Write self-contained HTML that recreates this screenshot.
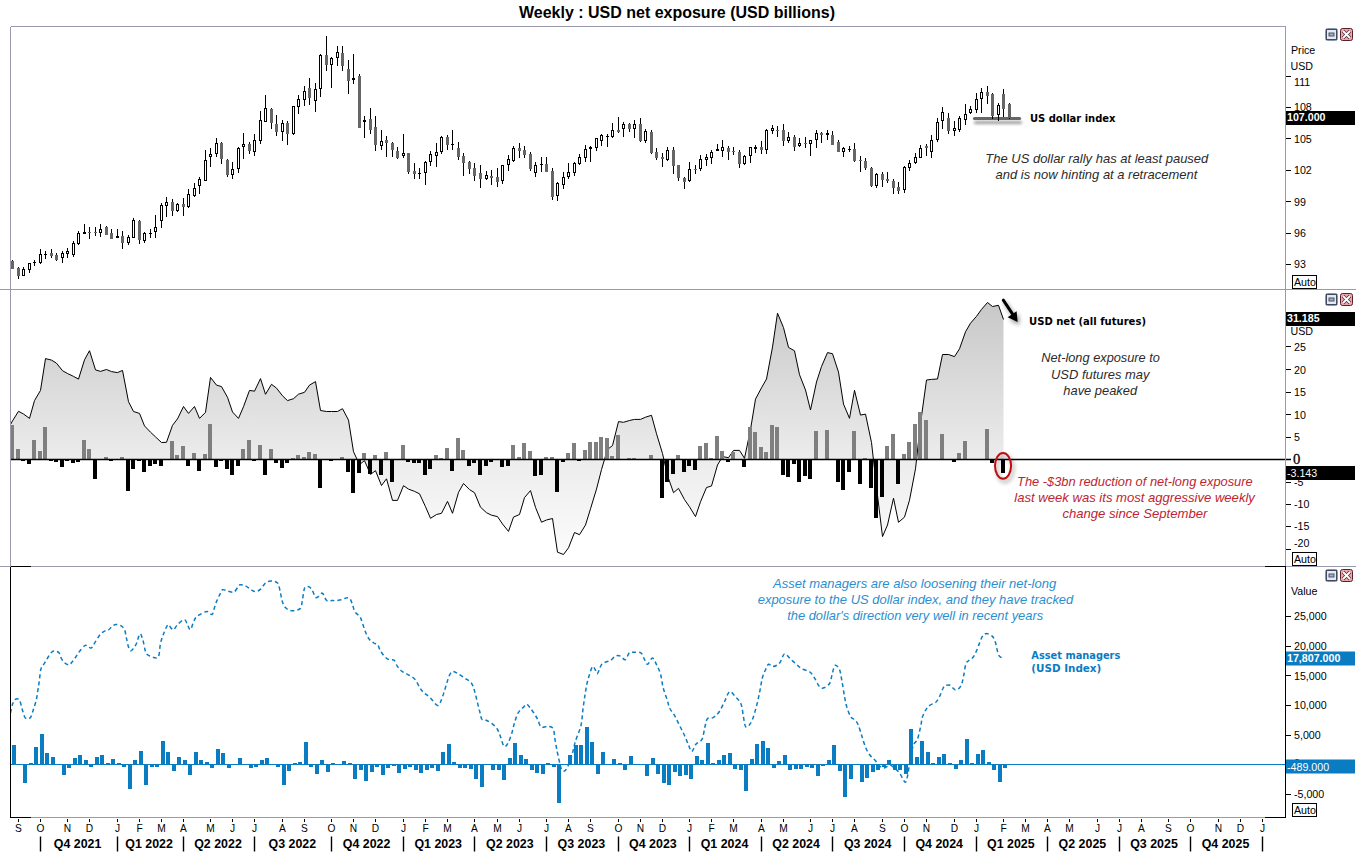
<!DOCTYPE html>
<html><head><meta charset="utf-8"><title>Weekly : USD net exposure (USD billions)</title>
<style>html,body{margin:0;padding:0;background:#fff}svg{display:block}</style></head>
<body>
<svg width="1356" height="853" viewBox="0 0 1356 853" font-family="'Liberation Sans', Arial, sans-serif">
<defs>
<linearGradient id="ga" gradientUnits="userSpaceOnUse" x1="0" y1="290" x2="0" y2="566"><stop offset="0" stop-color="#c5c5c5"/><stop offset="0.612" stop-color="#ececec"/><stop offset="1" stop-color="#fefefe"/></linearGradient>
<filter id="sh" filterUnits="userSpaceOnUse" x="960" y="280" width="80" height="220"><feGaussianBlur in="SourceAlpha" stdDeviation="2"/><feOffset dx="1.5" dy="3"/><feComponentTransfer><feFuncA type="linear" slope="0.4"/></feComponentTransfer><feMerge><feMergeNode/><feMergeNode in="SourceGraphic"/></feMerge></filter>
<filter id="sh2" filterUnits="userSpaceOnUse" x="960" y="100" width="80" height="40"><feGaussianBlur in="SourceAlpha" stdDeviation="1.6"/><feOffset dx="1" dy="3.5"/><feComponentTransfer><feFuncA type="linear" slope="0.4"/></feComponentTransfer><feMerge><feMergeNode/><feMergeNode in="SourceGraphic"/></feMerge></filter>
<clipPath id="cm"><rect x="11" y="290" width="1274.5" height="276"/></clipPath>
<clipPath id="cb"><rect x="11" y="567" width="1274.5" height="250"/></clipPath>
</defs>
<rect width="1356" height="853" fill="#fff"/>
<g clip-path="url(#cm)"><path d="M10.5 459.5 L10.5 424.5 L12.5 420.9 L18.5 411.3 L23.5 414.0 L29.5 418.4 L34.5 400.6 L40.5 390.4 L45.5 358.6 L51.5 360.1 L56.5 363.2 L62.5 370.7 L67.5 373.5 L73.5 376.4 L78.5 379.1 L84.5 359.8 L89.5 350.7 L95.5 369.9 L100.5 371.4 L106.5 369.5 L111.5 371.6 L117.5 372.6 L122.5 370.4 L128.5 401.7 L133.5 411.5 L139.5 413.4 L144.5 425.9 L150.5 432.2 L155.5 436.9 L161.5 442.5 L166.5 442.3 L172.5 425.3 L177.5 418.9 L183.5 406.5 L188.5 413.4 L194.5 406.5 L199.5 418.4 L205.5 412.4 L210.5 377.4 L216.5 385.1 L221.5 386.6 L227.5 397.3 L232.5 412.0 L238.5 418.4 L243.5 406.7 L249.5 390.4 L254.5 391.2 L260.5 378.6 L265.5 394.3 L271.5 384.3 L276.5 388.1 L282.5 395.8 L287.5 400.6 L293.5 398.7 L298.5 394.2 L304.5 392.3 L309.5 385.1 L315.5 381.6 L320.5 410.5 L326.5 411.5 L331.5 411.5 L337.5 411.5 L342.5 408.7 L348.5 420.1 L353.5 451.7 L359.5 464.6 L364.5 460.6 L370.5 474.4 L375.5 470.7 L381.5 485.5 L386.5 478.8 L392.5 500.4 L397.5 500.4 L403.5 485.7 L408.5 489.1 L414.5 491.4 L419.5 493.8 L425.5 506.7 L430.5 518.3 L436.5 514.5 L441.5 513.3 L447.5 501.4 L452.5 513.3 L458.5 492.4 L463.5 483.5 L469.5 489.6 L474.5 492.7 L480.5 507.2 L486.5 512.7 L491.5 515.2 L497.5 516.6 L502.5 524.0 L508.5 531.4 L513.5 517.1 L519.5 514.5 L524.5 497.6 L530.5 490.6 L535.5 507.4 L541.5 522.2 L546.5 520.0 L552.5 518.5 L557.5 552.2 L563.5 554.5 L568.5 547.8 L574.5 532.5 L579.5 534.7 L585.5 525.0 L590.5 508.8 L596.5 489.1 L601.5 469.6 L607.5 449.4 L612.5 445.6 L618.5 421.6 L623.5 422.3 L629.5 420.5 L634.5 419.4 L640.5 419.4 L645.5 417.2 L651.5 415.3 L656.5 433.7 L662.5 453.5 L667.5 475.5 L673.5 492.7 L678.5 488.4 L684.5 499.6 L689.5 506.8 L695.5 516.6 L700.5 501.8 L706.5 487.5 L711.5 486.0 L717.5 465.0 L722.5 456.6 L728.5 457.7 L733.5 450.4 L739.5 450.4 L744.5 458.3 L750.5 429.5 L755.5 399.1 L761.5 387.8 L766.5 379.0 L772.5 347.1 L777.5 313.2 L783.5 327.6 L788.5 347.4 L794.5 350.8 L799.5 374.7 L805.5 390.0 L810.5 410.0 L816.5 382.0 L821.5 366.5 L827.5 352.6 L832.5 353.7 L838.5 372.1 L843.5 404.1 L849.5 418.3 L854.5 390.3 L860.5 415.1 L865.5 414.1 L871.5 442.5 L876.5 487.0 L882.5 536.6 L887.5 525.0 L893.5 498.2 L898.5 522.3 L904.5 517.1 L909.5 500.2 L915.5 468.8 L920.5 423.5 L926.5 380.0 L931.5 379.4 L937.5 379.0 L942.5 354.5 L948.5 354.5 L954.5 356.6 L959.5 348.8 L965.5 331.8 L970.5 323.2 L976.5 316.3 L981.5 309.4 L987.5 302.5 L992.5 306.5 L998.5 305.3 L1003.5 319.5 L1003.5 459.5 Z" fill="url(#ga)"/>
<path d="M10.5 424.5 L12.5 420.9 L18.5 411.3 L23.5 414.0 L29.5 418.4 L34.5 400.6 L40.5 390.4 L45.5 358.6 L51.5 360.1 L56.5 363.2 L62.5 370.7 L67.5 373.5 L73.5 376.4 L78.5 379.1 L84.5 359.8 L89.5 350.7 L95.5 369.9 L100.5 371.4 L106.5 369.5 L111.5 371.6 L117.5 372.6 L122.5 370.4 L128.5 401.7 L133.5 411.5 L139.5 413.4 L144.5 425.9 L150.5 432.2 L155.5 436.9 L161.5 442.5 L166.5 442.3 L172.5 425.3 L177.5 418.9 L183.5 406.5 L188.5 413.4 L194.5 406.5 L199.5 418.4 L205.5 412.4 L210.5 377.4 L216.5 385.1 L221.5 386.6 L227.5 397.3 L232.5 412.0 L238.5 418.4 L243.5 406.7 L249.5 390.4 L254.5 391.2 L260.5 378.6 L265.5 394.3 L271.5 384.3 L276.5 388.1 L282.5 395.8 L287.5 400.6 L293.5 398.7 L298.5 394.2 L304.5 392.3 L309.5 385.1 L315.5 381.6 L320.5 410.5 L326.5 411.5 L331.5 411.5 L337.5 411.5 L342.5 408.7 L348.5 420.1 L353.5 451.7 L359.5 464.6 L364.5 460.6 L370.5 474.4 L375.5 470.7 L381.5 485.5 L386.5 478.8 L392.5 500.4 L397.5 500.4 L403.5 485.7 L408.5 489.1 L414.5 491.4 L419.5 493.8 L425.5 506.7 L430.5 518.3 L436.5 514.5 L441.5 513.3 L447.5 501.4 L452.5 513.3 L458.5 492.4 L463.5 483.5 L469.5 489.6 L474.5 492.7 L480.5 507.2 L486.5 512.7 L491.5 515.2 L497.5 516.6 L502.5 524.0 L508.5 531.4 L513.5 517.1 L519.5 514.5 L524.5 497.6 L530.5 490.6 L535.5 507.4 L541.5 522.2 L546.5 520.0 L552.5 518.5 L557.5 552.2 L563.5 554.5 L568.5 547.8 L574.5 532.5 L579.5 534.7 L585.5 525.0 L590.5 508.8 L596.5 489.1 L601.5 469.6 L607.5 449.4 L612.5 445.6 L618.5 421.6 L623.5 422.3 L629.5 420.5 L634.5 419.4 L640.5 419.4 L645.5 417.2 L651.5 415.3 L656.5 433.7 L662.5 453.5 L667.5 475.5 L673.5 492.7 L678.5 488.4 L684.5 499.6 L689.5 506.8 L695.5 516.6 L700.5 501.8 L706.5 487.5 L711.5 486.0 L717.5 465.0 L722.5 456.6 L728.5 457.7 L733.5 450.4 L739.5 450.4 L744.5 458.3 L750.5 429.5 L755.5 399.1 L761.5 387.8 L766.5 379.0 L772.5 347.1 L777.5 313.2 L783.5 327.6 L788.5 347.4 L794.5 350.8 L799.5 374.7 L805.5 390.0 L810.5 410.0 L816.5 382.0 L821.5 366.5 L827.5 352.6 L832.5 353.7 L838.5 372.1 L843.5 404.1 L849.5 418.3 L854.5 390.3 L860.5 415.1 L865.5 414.1 L871.5 442.5 L876.5 487.0 L882.5 536.6 L887.5 525.0 L893.5 498.2 L898.5 522.3 L904.5 517.1 L909.5 500.2 L915.5 468.8 L920.5 423.5 L926.5 380.0 L931.5 379.4 L937.5 379.0 L942.5 354.5 L948.5 354.5 L954.5 356.6 L959.5 348.8 L965.5 331.8 L970.5 323.2 L976.5 316.3 L981.5 309.4 L987.5 302.5 L992.5 306.5 L998.5 305.3 L1003.5 319.5" fill="none" stroke="#000" stroke-width="1" stroke-linejoin="round"/>
<path d="M10 459h4v-34h-4zM16 459h4v-10h-4zM32 459h4v-19h-4zM38 459h4v-8h-4zM43 459h4v-32h-4zM82 459h4v-19h-4zM87 459h4v-10h-4zM104 459h4v-2h-4zM120 459h4v-2h-4zM170 459h4v-18h-4zM175 459h4v-4h-4zM181 459h4v-13h-4zM192 459h4v-6h-4zM203 459h4v-5h-4zM208 459h4v-35h-4zM241 459h4v-10h-4zM247 459h4v-19h-4zM258 459h4v-14h-4zM269 459h4v-10h-4zM291 459h4v-1h-4zM296 459h4v-4h-4zM302 459h4v-2h-4zM307 459h4v-7h-4zM313 459h4v-5h-4zM340 459h4v-2h-4zM362 459h4v-6h-4zM373 459h4v-4h-4zM384 459h4v-7h-4zM401 459h4v-14h-4zM434 459h4v-4h-4zM439 459h4v-1h-4zM445 459h4v-11h-4zM456 459h4v-21h-4zM461 459h4v-9h-4zM511 459h4v-14h-4zM517 459h4v-2h-4zM522 459h4v-16h-4zM528 459h4v-8h-4zM544 459h4v-2h-4zM550 459h4v-2h-4zM566 459h4v-6h-4zM572 459h4v-16h-4zM583 459h4v-9h-4zM588 459h4v-17h-4zM594 459h4v-17h-4zM599 459h4v-22h-4zM605 459h4v-21h-4zM610 459h4v-3h-4zM616 459h4v-24h-4zM627 459h4v-1h-4zM632 459h4v-1h-4zM649 459h4v-4h-4zM676 459h4v-4h-4zM698 459h4v-13h-4zM704 459h4v-16h-4zM709 459h4v-1h-4zM715 459h4v-23h-4zM720 459h4v-8h-4zM731 459h4v-7h-4zM748 459h4v-32h-4zM753 459h4v-27h-4zM759 459h4v-12h-4zM764 459h4v-7h-4zM770 459h4v-34h-4zM775 459h4v-32h-4zM814 459h4v-28h-4zM825 459h4v-29h-4zM852 459h4v-28h-4zM863 459h4v-1h-4zM885 459h4v-13h-4zM891 459h4v-25h-4zM902 459h4v-5h-4zM907 459h4v-17h-4zM913 459h4v-35h-4zM918 459h4v-47h-4zM924 459h4v-39h-4zM940 459h4v-25h-4zM957 459h4v-6h-4zM963 459h4v-18h-4zM985 459h4v-30h-4z" fill="#7f7f7f" shape-rendering="crispEdges"/><path d="M21 460h4v1h-4zM27 460h4v4h-4zM49 460h4v1h-4zM54 460h4v2h-4zM60 460h4v7h-4zM65 460h4v1h-4zM71 460h4v3h-4zM76 460h4v2h-4zM93 460h4v19h-4zM109 460h4v1h-4zM126 460h4v31h-4zM131 460h4v9h-4zM137 460h4v1h-4zM142 460h4v12h-4zM148 460h4v6h-4zM153 460h4v4h-4zM159 460h4v6h-4zM186 460h4v6h-4zM197 460h4v11h-4zM214 460h4v7h-4zM219 460h4v1h-4zM225 460h4v9h-4zM230 460h4v15h-4zM236 460h4v6h-4zM252 460h4v1h-4zM263 460h4v15h-4zM274 460h4v3h-4zM280 460h4v8h-4zM285 460h4v3h-4zM318 460h4v28h-4zM329 460h4v1h-4zM346 460h4v12h-4zM351 460h4v33h-4zM357 460h4v13h-4zM368 460h4v14h-4zM379 460h4v15h-4zM390 460h4v22h-4zM406 460h4v2h-4zM412 460h4v3h-4zM417 460h4v3h-4zM423 460h4v15h-4zM428 460h4v9h-4zM450 460h4v11h-4zM467 460h4v6h-4zM472 460h4v3h-4zM478 460h4v15h-4zM484 460h4v6h-4zM489 460h4v2h-4zM500 460h4v7h-4zM506 460h4v6h-4zM533 460h4v16h-4zM539 460h4v15h-4zM555 460h4v32h-4zM561 460h4v2h-4zM577 460h4v1h-4zM660 460h4v38h-4zM665 460h4v22h-4zM671 460h4v14h-4zM682 460h4v12h-4zM687 460h4v6h-4zM693 460h4v10h-4zM726 460h4v2h-4zM742 460h4v7h-4zM781 460h4v15h-4zM786 460h4v17h-4zM792 460h4v4h-4zM797 460h4v22h-4zM803 460h4v16h-4zM808 460h4v19h-4zM836 460h4v22h-4zM841 460h4v30h-4zM847 460h4v12h-4zM858 460h4v24h-4zM869 460h4v28h-4zM874 460h4v58h-4zM880 460h4v37h-4zM896 460h4v24h-4zM952 460h4v2h-4zM990 460h4v3h-4zM1001 460h4v13h-4z" fill="#000" shape-rendering="crispEdges"/></g>
<path d="M11 459.5H1291" stroke="#000" stroke-width="1.4"/>
<path d="M12 764h4v-19h-4zM23 765h4v18h-4zM29 764h4v-1h-4zM34 764h4v-17h-4zM40 764h4v-30h-4zM45 764h4v-11h-4zM51 764h4v-7h-4zM62 765h4v10h-4zM67 765h4v3h-4zM73 764h4v-6h-4zM78 764h4v-9h-4zM84 764h4v-4h-4zM89 765h4v2h-4zM95 764h4v-7h-4zM100 764h4v-9h-4zM106 764h4v-1h-4zM111 764h4v-5h-4zM117 764h4v-1h-4zM122 765h4v2h-4zM128 765h4v24h-4zM133 764h4v-4h-4zM139 764h4v-13h-4zM144 765h4v20h-4zM150 765h4v2h-4zM155 765h4v2h-4zM161 764h4v-23h-4zM166 764h4v-12h-4zM172 765h4v6h-4zM177 764h4v-7h-4zM183 764h4v-4h-4zM188 765h4v10h-4zM194 764h4v-12h-4zM199 764h4v-4h-4zM205 764h4v-2h-4zM210 765h4v3h-4zM216 764h4v-15h-4zM221 764h4v-11h-4zM227 765h4v3h-4zM238 764h4v-6h-4zM249 765h4v3h-4zM254 765h4v2h-4zM260 764h4v-4h-4zM265 764h4v-6h-4zM276 765h4v2h-4zM282 765h4v20h-4zM287 765h4v6h-4zM293 764h4v-1h-4zM298 764h4v-2h-4zM304 764h4v-22h-4zM309 765h4v2h-4zM315 765h4v9h-4zM320 764h4v-4h-4zM326 765h4v7h-4zM331 764h4v-1h-4zM342 764h4v-3h-4zM348 764h4v-1h-4zM353 765h4v14h-4zM359 765h4v5h-4zM364 765h4v16h-4zM370 765h4v7h-4zM375 765h4v2h-4zM381 765h4v10h-4zM386 765h4v3h-4zM392 765h4v1h-4zM397 765h4v8h-4zM403 765h4v4h-4zM408 765h4v2h-4zM414 765h4v5h-4zM419 765h4v8h-4zM425 765h4v5h-4zM430 765h4v3h-4zM436 765h4v6h-4zM441 764h4v-12h-4zM447 764h4v-20h-4zM452 764h4v-2h-4zM458 765h4v3h-4zM463 765h4v3h-4zM469 765h4v4h-4zM474 765h4v14h-4zM480 765h4v22h-4zM491 765h4v5h-4zM497 765h4v5h-4zM502 765h4v15h-4zM508 764h4v-6h-4zM513 764h4v-21h-4zM519 764h4v-9h-4zM524 764h4v-5h-4zM530 765h4v5h-4zM535 765h4v8h-4zM541 765h4v9h-4zM546 764h4v-1h-4zM552 765h4v2h-4zM557 765h4v38h-4zM568 764h4v-9h-4zM574 764h4v-19h-4zM579 764h4v-19h-4zM585 764h4v-37h-4zM590 764h4v-22h-4zM596 765h4v9h-4zM601 764h4v-12h-4zM612 764h4v-5h-4zM618 764h4v-1h-4zM623 765h4v5h-4zM629 764h4v-8h-4zM645 765h4v11h-4zM651 764h4v-6h-4zM656 765h4v9h-4zM662 765h4v18h-4zM667 765h4v20h-4zM673 765h4v7h-4zM678 765h4v11h-4zM684 765h4v10h-4zM689 765h4v14h-4zM695 764h4v-8h-4zM700 764h4v-4h-4zM706 764h4v-21h-4zM711 764h4v-1h-4zM717 764h4v-4h-4zM722 764h4v-9h-4zM728 764h4v-11h-4zM733 765h4v4h-4zM739 765h4v5h-4zM744 765h4v26h-4zM750 764h4v-5h-4zM755 764h4v-20h-4zM761 764h4v-23h-4zM766 764h4v-16h-4zM772 765h4v3h-4zM777 764h4v-3h-4zM783 764h4v-9h-4zM788 765h4v5h-4zM794 765h4v4h-4zM799 765h4v4h-4zM805 765h4v2h-4zM810 765h4v3h-4zM816 765h4v11h-4zM821 765h4v1h-4zM827 764h4v-4h-4zM832 764h4v-19h-4zM838 765h4v6h-4zM843 765h4v32h-4zM849 765h4v14h-4zM860 765h4v17h-4zM865 765h4v13h-4zM871 765h4v7h-4zM876 765h4v5h-4zM882 765h4v2h-4zM887 764h4v-4h-4zM893 765h4v5h-4zM898 765h4v5h-4zM904 765h4v9h-4zM909 764h4v-35h-4zM915 764h4v-7h-4zM920 764h4v-23h-4zM926 764h4v-12h-4zM931 764h4v-1h-4zM937 764h4v-7h-4zM942 764h4v-10h-4zM948 764h4v-1h-4zM954 765h4v4h-4zM959 764h4v-4h-4zM965 764h4v-25h-4zM970 764h4v-1h-4zM976 764h4v-10h-4zM981 764h4v-14h-4zM987 764h4v-2h-4zM992 765h4v5h-4zM998 765h4v17h-4zM1003 765h4v3h-4z" fill="#0a7cc2" shape-rendering="crispEdges"/>
<path d="M11 764.5H1286" stroke="#0a7cc2" stroke-width="1"/>
<path d="M10.5 712.9 C10.8 711.4 11.8 706.5 12.5 704.3 C13.2 702.1 13.8 700.5 14.9 699.7 C16.0 698.9 18.1 698.3 19.3 699.7 C20.4 701.1 20.9 704.9 21.8 707.8 C22.7 710.8 23.9 715.5 24.9 717.3 C26.0 719.0 27.1 718.5 28.1 718.5 C29.0 718.5 29.7 718.6 30.6 717.3 C31.4 715.9 32.2 713.2 33.1 710.4 C34.0 707.5 35.4 703.7 36.2 700.3 C37.0 697.0 37.3 693.6 37.9 690.3 C38.4 686.9 38.9 683.8 39.4 680.2 C39.9 676.7 40.0 671.8 40.9 669.0 C41.7 666.1 43.2 665.3 44.4 663.3 C45.6 661.3 46.9 658.9 48.2 657.0 C49.4 655.2 50.8 653.0 51.9 652.0 C53.1 651.0 53.9 651.0 55.1 651.1 C56.2 651.2 57.8 651.4 58.8 652.6 C59.9 653.8 60.4 656.6 61.3 658.3 C62.3 660.0 63.2 661.6 64.5 662.7 C65.7 663.8 67.6 665.0 68.9 664.9 C70.1 664.8 70.8 663.4 72.0 662.1 C73.1 660.7 74.5 658.8 75.8 657.0 C77.0 655.3 77.9 653.3 79.5 651.4 C81.1 649.4 83.7 646.1 85.2 645.4 C86.6 644.6 87.3 646.6 88.3 647.0 C89.3 647.4 90.4 648.5 91.4 647.9 C92.5 647.2 93.1 645.5 94.6 643.2 C96.0 641.0 98.5 636.5 100.2 634.4 C101.9 632.4 103.3 631.8 104.6 631.1 C106.0 630.3 107.1 630.9 108.4 630.1 C109.6 629.3 110.9 627.2 112.1 626.3 C113.4 625.4 114.4 624.6 115.9 624.5 C117.4 624.4 119.5 624.7 120.9 625.7 C122.4 626.6 123.7 627.9 124.7 630.1 C125.6 632.3 125.9 636.0 126.6 638.8 C127.2 641.7 127.8 645.0 128.5 647.0 C129.1 649.0 129.9 650.5 130.7 650.8 C131.5 651.0 132.5 649.5 133.5 648.2 C134.5 647.0 135.5 645.6 136.6 643.2 C137.7 640.8 138.9 634.3 140.0 633.8 C141.0 633.3 142.0 637.2 142.9 640.1 C143.8 643.0 144.7 649.0 145.4 651.4 C146.1 653.8 146.1 653.6 147.3 654.5 C148.4 655.5 150.7 656.5 152.3 657.0 C153.9 657.6 155.6 658.2 156.7 657.9 C157.8 657.6 158.3 657.5 158.9 655.2 C159.6 652.8 159.7 647.4 160.4 643.9 C161.2 640.3 162.3 637.0 163.6 633.8 C164.8 630.6 166.7 625.7 168.0 624.8 C169.2 623.8 170.1 627.4 171.1 628.2 C172.1 629.0 172.7 630.2 173.8 629.6 C174.8 629.0 175.8 626.3 177.5 624.6 C179.3 622.9 182.8 619.5 184.4 619.6 C186.1 619.7 186.6 623.5 187.6 625.2 C188.6 626.9 189.5 630.0 190.5 629.6 C191.4 629.2 192.3 624.7 193.2 622.7 C194.1 620.7 194.6 619.0 195.7 617.7 C196.9 616.3 198.2 615.6 200.1 614.5 C202.0 613.5 205.0 611.4 207.0 611.4 C209.0 611.4 210.8 615.2 212.0 614.5 C213.3 613.9 213.7 610.0 214.5 607.6 C215.4 605.2 216.1 602.4 217.1 600.1 C218.0 597.8 219.2 595.6 220.2 593.8 C221.1 592.1 221.4 590.2 222.7 589.7 C224.0 589.2 225.8 590.7 227.7 591.1 C229.6 591.5 232.2 592.8 234.0 592.0 C235.8 591.2 237.3 587.5 238.4 586.3 C239.4 585.1 239.1 584.9 240.3 584.8 C241.4 584.7 243.4 584.8 245.3 585.7 C247.2 586.6 249.9 589.1 251.6 590.1 C253.2 591.1 253.9 591.7 255.3 591.6 C256.8 591.5 258.7 590.8 260.3 589.4 C262.0 588.0 263.7 584.6 265.4 583.2 C267.0 581.8 268.8 581.3 270.4 581.0 C271.9 580.8 273.5 581.1 274.8 581.5 C276.1 582.0 277.2 582.0 278.2 583.8 C279.1 585.6 279.7 589.7 280.4 592.6 C281.1 595.5 281.5 598.9 282.3 601.4 C283.1 603.9 284.1 606.1 285.4 607.6 C286.8 609.2 288.8 610.1 290.5 610.5 C292.1 611.0 293.8 610.8 295.5 610.4 C297.1 610.0 299.3 610.0 300.5 608.3 C301.6 606.6 301.8 603.1 302.4 600.1 C303.0 597.1 303.5 592.3 304.0 590.1 C304.5 587.9 304.6 587.5 305.5 586.9 C306.4 586.4 308.1 586.3 309.3 586.9 C310.4 587.6 311.4 589.0 312.4 590.7 C313.5 592.4 314.5 596.4 315.5 597.4 C316.6 598.3 317.5 597.0 318.7 596.3 C319.8 595.7 321.2 592.6 322.4 593.2 C323.7 593.8 325.1 598.9 326.2 600.1 C327.4 601.4 328.2 600.7 329.3 600.7 C330.5 600.8 332.2 600.5 333.1 600.5 C334.1 600.5 333.7 600.8 335.0 600.7 C336.4 600.6 339.4 600.3 341.3 599.8 C343.2 599.4 344.8 598.1 346.3 597.9 C347.8 597.8 349.0 597.6 350.1 598.8 C351.1 600.0 351.7 602.9 352.6 605.1 C353.4 607.3 353.8 610.0 355.1 612.0 C356.3 614.0 358.8 614.9 360.1 617.0 C361.4 619.1 361.9 621.9 362.9 624.5 C363.8 627.2 364.7 630.2 365.8 632.7 C366.9 635.2 368.2 637.9 369.5 639.6 C370.9 641.3 372.6 642.3 373.9 643.1 C375.3 643.9 376.6 643.4 377.7 644.6 C378.7 645.8 379.1 648.4 380.2 650.3 C381.2 652.1 382.5 654.3 384.0 655.9 C385.4 657.5 387.3 659.0 389.0 659.7 C390.6 660.4 392.6 659.0 394.0 660.1 C395.3 661.1 395.9 664.1 397.1 665.9 C398.4 667.8 399.8 669.6 401.5 671.0 C403.3 672.4 405.3 673.0 407.5 674.4 C409.8 675.8 413.0 677.1 415.1 679.4 C417.1 681.7 418.6 686.0 420.1 688.2 C421.5 690.4 422.2 691.1 423.8 692.6 C425.5 694.2 427.9 695.5 430.1 697.6 C432.3 699.7 435.3 704.3 437.0 705.2 C438.7 706.0 439.0 704.8 440.2 702.7 C441.3 700.6 442.8 696.1 443.9 692.6 C445.1 689.2 446.0 685.1 447.1 682.0 C448.1 678.8 449.1 675.5 450.2 673.8 C451.2 672.1 451.9 671.4 453.3 671.5 C454.8 671.6 456.9 673.2 459.0 674.4 C461.1 675.6 463.8 677.4 465.9 678.8 C468.0 680.3 470.1 681.1 471.5 683.2 C473.0 685.3 473.7 688.3 474.7 691.4 C475.6 694.4 476.3 698.1 477.2 701.4 C478.0 704.8 478.9 708.5 479.7 711.4 C480.4 714.4 480.9 717.8 481.8 719.2 C482.7 720.6 483.7 719.3 485.3 720.0 C487.0 720.7 489.6 721.9 491.6 723.4 C493.6 724.9 495.8 726.8 497.2 729.0 C498.7 731.2 499.4 734.0 500.4 736.5 C501.3 739.0 502.1 742.4 502.9 744.1 C503.7 745.7 504.2 746.9 505.1 746.6 C506.1 746.3 507.3 744.7 508.5 742.2 C509.7 739.7 511.3 735.0 512.3 731.5 C513.3 728.1 513.8 724.7 514.8 721.5 C515.9 718.2 517.1 714.5 518.6 712.1 C520.0 709.7 522.2 708.4 523.6 707.1 C524.9 705.7 525.6 704.0 526.7 704.2 C527.9 704.4 529.1 706.6 530.5 708.3 C531.8 710.0 533.6 712.6 534.9 714.6 C536.1 716.6 537.0 718.1 538.0 720.2 C539.1 722.3 539.6 726.1 541.2 727.1 C542.7 728.2 545.4 726.2 547.4 726.5 C549.4 726.7 551.8 726.3 553.1 728.6 C554.4 730.9 554.4 736.3 555.1 740.1 C555.8 743.9 556.5 747.8 557.2 751.6 C558.0 755.4 559.0 760.2 559.7 763.1 C560.4 765.9 560.6 767.4 561.3 768.8 C562.0 770.2 562.8 771.4 563.8 771.3 C564.8 771.1 565.7 770.7 567.1 768.0 C568.4 765.3 570.6 759.2 572.0 754.9 C573.4 750.5 573.8 746.7 575.3 741.7 C576.8 736.8 579.7 730.8 581.0 725.3 C582.3 719.9 582.3 714.1 583.0 708.9 C583.7 703.7 584.4 698.8 585.1 694.2 C585.9 689.5 586.4 685.5 587.6 681.0 C588.8 676.5 591.0 669.0 592.2 667.1 C593.4 665.1 594.1 668.1 595.0 669.2 C595.8 670.3 596.3 674.4 597.4 673.6 C598.5 672.9 600.0 666.6 601.5 664.6 C603.0 662.6 605.0 662.5 606.5 661.8 C608.0 661.1 609.1 661.5 610.6 660.5 C612.1 659.6 613.8 656.8 615.5 656.1 C617.1 655.3 618.8 655.5 620.4 656.1 C622.0 656.7 623.8 660.2 625.3 659.7 C626.8 659.1 627.9 654.0 629.4 652.8 C630.9 651.6 632.4 652.3 634.4 652.3 C636.3 652.3 639.3 651.7 640.9 652.8 C642.6 653.9 643.1 657.0 644.2 658.9 C645.3 660.8 646.1 664.4 647.5 664.3 C648.9 664.1 650.9 658.0 652.4 658.1 C653.9 658.1 655.1 661.9 656.5 664.6 C657.9 667.3 659.5 670.6 660.6 674.5 C661.7 678.3 662.0 683.3 663.1 687.6 C664.2 691.8 666.1 696.5 667.2 699.9 C668.3 703.3 668.4 705.5 669.6 708.1 C670.9 710.7 672.9 712.6 674.6 715.5 C676.2 718.4 677.8 722.0 679.5 725.3 C681.1 728.6 682.9 731.9 684.4 735.2 C685.9 738.5 687.3 742.3 688.5 745.0 C689.7 747.8 690.6 751.7 691.8 751.6 C693.0 751.4 694.2 746.3 695.9 744.2 C697.6 742.1 700.5 742.1 702.0 739.3 C703.5 736.4 704.0 730.4 704.9 727.0 C705.8 723.6 706.0 720.3 707.4 718.8 C708.8 717.2 711.2 718.7 713.1 717.6 C715.0 716.5 717.0 714.9 718.9 712.2 C720.8 709.5 722.8 705.0 724.6 701.5 C726.4 698.1 727.8 692.5 729.5 691.7 C731.3 690.9 733.4 694.6 735.3 696.6 C737.2 698.7 739.7 700.6 741.0 704.0 C742.4 707.4 742.7 713.3 743.5 717.1 C744.3 721.0 744.6 726.3 745.9 727.0 C747.3 727.7 749.9 724.8 751.7 721.2 C753.5 717.7 755.2 710.7 756.6 705.6 C758.0 700.6 758.9 695.5 759.9 690.9 C760.9 686.2 761.4 681.3 762.4 677.7 C763.3 674.2 764.6 671.8 765.6 669.5 C766.7 667.3 767.4 664.8 768.6 664.3 C769.8 663.8 771.2 666.8 773.0 666.6 C774.9 666.4 777.7 665.1 779.6 663.0 C781.5 660.9 782.7 654.6 784.5 653.9 C786.3 653.3 788.2 657.1 790.3 658.9 C792.3 660.6 794.9 663.0 796.8 664.6 C798.7 666.3 799.6 667.5 801.7 668.7 C803.9 669.9 807.8 670.4 809.9 672.0 C812.1 673.6 813.4 676.2 814.9 678.6 C816.4 680.9 817.6 684.4 819.0 685.9 C820.3 687.5 821.3 688.5 823.1 688.1 C824.8 687.7 828.1 685.8 829.6 683.5 C831.1 681.2 831.2 677.5 832.1 674.5 C833.0 671.5 833.7 666.3 834.9 665.4 C836.1 664.6 838.3 666.9 839.5 669.5 C840.7 672.1 841.1 676.6 841.9 681.0 C842.8 685.4 843.6 691.4 844.4 695.8 C845.2 700.2 845.8 703.7 846.9 707.3 C848.0 710.8 849.6 715.0 851.0 717.1 C852.3 719.2 853.8 718.5 855.1 719.9 C856.3 721.3 857.3 722.8 858.4 725.3 C859.4 727.9 860.8 732.7 861.6 735.2 C862.4 737.7 862.4 737.9 863.1 740.2 C863.9 742.5 865.1 746.5 866.3 749.0 C867.4 751.5 868.6 753.4 870.0 755.2 C871.5 757.1 873.6 758.6 875.1 760.3 C876.5 761.9 877.5 764.0 878.8 765.3 C880.2 766.6 881.9 767.8 883.2 768.0 C884.6 768.3 885.8 767.1 887.0 766.5 C888.1 766.0 889.0 764.4 890.1 764.7 C891.3 764.9 892.4 766.5 893.9 767.8 C895.3 769.0 897.4 770.4 898.9 772.2 C900.4 774.0 901.6 776.8 902.7 778.5 C903.7 780.1 904.6 782.5 905.4 782.2 C906.2 781.9 906.8 779.0 907.4 776.6 C908.0 774.2 908.3 771.8 908.9 767.8 C909.6 763.8 910.6 756.7 911.4 752.7 C912.3 748.8 913.0 746.0 914.0 744.0 C914.9 741.9 916.3 741.9 917.1 740.2 C917.9 738.5 918.3 736.4 919.0 733.9 C919.6 731.4 920.3 728.0 920.9 725.1 C921.5 722.2 921.7 719.3 922.6 716.6 C923.5 713.9 925.1 711.0 926.3 709.1 C927.6 707.2 928.5 706.2 930.1 705.1 C931.7 703.9 934.2 703.6 935.8 702.2 C937.3 700.8 938.4 698.7 939.5 696.5 C940.7 694.3 941.7 690.8 942.7 689.0 C943.6 687.2 943.9 686.2 945.2 685.6 C946.4 685.0 948.8 684.8 950.2 685.2 C951.5 685.7 952.4 687.6 953.3 688.4 C954.3 689.2 954.8 690.1 955.8 690.0 C956.9 689.9 958.6 689.0 959.6 687.8 C960.6 686.5 961.4 685.0 962.1 682.7 C962.8 680.4 963.4 677.1 964.0 674.0 C964.6 670.8 965.1 666.1 965.9 663.9 C966.6 661.7 967.2 661.8 968.4 660.8 C969.5 659.7 971.4 659.3 972.8 657.6 C974.1 656.0 975.4 653.2 976.5 650.7 C977.7 648.2 978.6 645.1 979.7 642.6 C980.7 640.1 981.7 637.2 982.8 635.7 C984.0 634.2 985.1 633.6 986.6 633.6 C988.0 633.6 990.2 634.6 991.6 635.7 C993.0 636.8 993.9 638.1 994.7 640.1 C995.6 642.1 996.0 645.2 996.6 647.6 C997.2 650.0 997.9 652.9 998.5 654.5 C999.1 656.1 999.6 656.4 1000.4 657.0 C1001.1 657.6 1002.5 657.9 1002.9 658.0" fill="none" stroke="#0a7cc2" stroke-width="1.5" stroke-dasharray="4 3" clip-path="url(#cb)"/>
<path d="M974.5 118.5H1019.5" stroke="#666" stroke-width="3.2" stroke-linecap="round" filter="url(#sh2)"/>
<path d="M12 260h1v9h-1zM18 267h1v12h-1zM23 267h1v9h-1zM29 263h1v10h-1zM34 260h1v6h-1zM40 249h1v15h-1zM45 251h1v8h-1zM51 249h1v9h-1zM56 253h1v8h-1zM62 251h1v12h-1zM67 248h1v10h-1zM73 241h1v16h-1zM78 231h1v14h-1zM84 224h1v10h-1zM89 227h1v12h-1zM95 227h1v9h-1zM100 224h1v13h-1zM106 226h1v9h-1zM111 229h1v10h-1zM117 229h1v9h-1zM122 231h1v18h-1zM128 235h1v10h-1zM133 218h1v20h-1zM139 220h1v24h-1zM144 232h1v11h-1zM150 229h1v9h-1zM155 215h1v23h-1zM161 203h1v25h-1zM166 197h1v20h-1zM172 199h1v17h-1zM177 203h1v9h-1zM183 198h1v18h-1zM188 189h1v19h-1zM194 183h1v14h-1zM199 177h1v17h-1zM205 150h1v31h-1zM210 148h1v19h-1zM216 138h1v19h-1zM221 142h1v22h-1zM227 159h1v18h-1zM232 162h1v17h-1zM238 147h1v26h-1zM243 133h1v26h-1zM249 142h1v12h-1zM254 134h1v22h-1zM260 111h1v33h-1zM265 95h1v27h-1zM271 108h1v21h-1zM276 115h1v21h-1zM282 120h1v21h-1zM287 121h1v24h-1zM293 106h1v29h-1zM298 95h1v19h-1zM304 86h1v20h-1zM309 78h1v27h-1zM315 83h1v29h-1zM320 54h1v43h-1zM326 36h1v35h-1zM331 57h1v31h-1zM337 46h1v20h-1zM342 46h1v25h-1zM348 60h1v34h-1zM353 54h1v30h-1zM359 74h1v54h-1zM364 116h1v22h-1zM370 108h1v26h-1zM375 116h1v35h-1zM381 130h1v20h-1zM386 136h1v21h-1zM392 142h1v15h-1zM397 147h1v12h-1zM403 134h1v24h-1zM408 153h1v21h-1zM414 163h1v16h-1zM419 168h1v11h-1zM425 161h1v24h-1zM430 151h1v15h-1zM436 143h1v24h-1zM441 136h1v18h-1zM447 135h1v15h-1zM452 130h1v20h-1zM458 142h1v18h-1zM463 153h1v23h-1zM469 161h1v13h-1zM474 163h1v18h-1zM480 165h1v23h-1zM486 171h1v9h-1zM491 170h1v15h-1zM497 168h1v19h-1zM502 165h1v19h-1zM508 155h1v16h-1zM513 146h1v16h-1zM519 143h1v15h-1zM524 146h1v12h-1zM530 152h1v19h-1zM535 162h1v15h-1zM541 157h1v15h-1zM546 157h1v15h-1zM552 168h1v32h-1zM557 182h1v19h-1zM563 172h1v17h-1zM568 163h1v16h-1zM574 162h1v14h-1zM579 154h1v11h-1zM585 145h1v17h-1zM590 146h1v16h-1zM596 138h1v13h-1zM601 134h1v12h-1zM607 134h1v13h-1zM612 123h1v15h-1zM618 117h1v16h-1zM623 122h1v15h-1zM629 123h1v9h-1zM634 120h1v18h-1zM640 118h1v24h-1zM645 129h1v14h-1zM651 130h1v24h-1zM656 148h1v12h-1zM662 153h1v14h-1zM667 147h1v14h-1zM673 147h1v27h-1zM678 165h1v16h-1zM684 177h1v12h-1zM689 162h1v20h-1zM695 165h1v9h-1zM700 155h1v16h-1zM706 154h1v12h-1zM711 150h1v14h-1zM717 144h1v7h-1zM722 140h1v17h-1zM728 146h1v14h-1zM733 147h1v8h-1zM739 150h1v18h-1zM744 155h1v10h-1zM750 147h1v16h-1zM755 145h1v8h-1zM761 141h1v13h-1zM766 129h1v25h-1zM772 125h1v9h-1zM777 126h1v11h-1zM783 124h1v22h-1zM788 132h1v11h-1zM794 135h1v16h-1zM799 138h1v9h-1zM805 137h1v11h-1zM810 140h1v16h-1zM816 130h1v18h-1zM821 132h1v11h-1zM827 130h1v10h-1zM832 131h1v14h-1zM838 140h1v12h-1zM843 147h1v10h-1zM849 146h1v6h-1zM854 143h1v19h-1zM860 156h1v16h-1zM865 158h1v12h-1zM871 167h1v20h-1zM876 173h1v15h-1zM882 172h1v15h-1zM887 172h1v11h-1zM893 179h1v15h-1zM898 182h1v12h-1zM904 166h1v27h-1zM909 160h1v11h-1zM915 153h1v11h-1zM920 145h1v13h-1zM926 144h1v12h-1zM931 135h1v23h-1zM937 118h1v24h-1zM942 107h1v22h-1zM948 113h1v21h-1zM954 121h1v15h-1zM959 116h1v16h-1zM965 104h1v21h-1zM970 106h1v8h-1zM976 93h1v20h-1zM981 88h1v25h-1zM987 86h1v18h-1zM992 93h1v26h-1zM998 103h1v18h-1zM1003 89h1v28h-1zM1009 103h1v16h-1z" fill="#000" shape-rendering="crispEdges"/>
<path d="M22 269h3v7h-3z M23 270v5h1v-5zM28 263h3v7h-3z M29 264v5h1v-5zM33 262h3v1h-3zM39 254h3v9h-3z M40 255v7h1v-7zM44 254h3v1h-3zM61 253h3v5h-3z M62 254v3h1v-3zM66 251h3v3h-3z M67 252v1h1v-1zM72 243h3v12h-3z M73 244v10h1v-10zM77 233h3v11h-3z M78 234v9h1v-9zM83 232h3v2h-3zM99 229h3v4h-3z M100 230v2h1v-2zM116 236h3v2h-3zM127 237h3v6h-3z M128 238v4h1v-4zM132 220h3v18h-3z M133 221v16h1v-16zM143 233h3v8h-3z M144 234v6h1v-6zM149 233h3v1h-3zM154 227h3v5h-3z M155 228v3h1v-3zM160 205h3v16h-3z M161 206v14h1v-14zM165 202h3v4h-3z M166 203v2h1v-2zM176 204h3v7h-3z M177 205v5h1v-5zM187 194h3v13h-3z M188 195v11h1v-11zM193 188h3v8h-3z M194 189v6h1v-6zM198 179h3v7h-3z M199 180v5h1v-5zM204 160h3v21h-3z M205 161v19h1v-19zM209 154h3v3h-3z M210 155v1h1v-1zM215 143h3v11h-3z M216 144v9h1v-9zM231 169h3v6h-3z M232 170v4h1v-4zM237 148h3v21h-3z M238 149v19h1v-19zM242 144h3v3h-3z M243 145v1h1v-1zM253 140h3v12h-3z M254 141v10h1v-10zM259 120h3v21h-3z M260 121v19h1v-19zM264 108h3v14h-3z M265 109v12h1v-12zM281 123h3v9h-3z M282 124v7h1v-7zM292 106h3v28h-3z M293 107v26h1v-26zM297 99h3v8h-3z M298 100v6h1v-6zM303 91h3v9h-3z M304 92v7h1v-7zM314 89h3v12h-3z M315 90v10h1v-10zM319 55h3v34h-3z M320 56v32h1v-32zM330 58h3v7h-3z M331 59v5h1v-5zM336 52h3v6h-3z M337 53v4h1v-4zM352 78h3v2h-3zM363 120h3v2h-3zM380 141h3v5h-3z M381 142v3h1v-3zM402 153h3v3h-3z M403 154v1h1v-1zM418 173h3v1h-3zM424 162h3v11h-3z M425 163v9h1v-9zM429 154h3v8h-3z M430 155v6h1v-6zM435 152h3v4h-3z M436 153v2h1v-2zM440 137h3v15h-3z M441 138v13h1v-13zM451 144h3v1h-3zM485 175h3v4h-3z M486 176v2h1v-2zM501 165h3v16h-3z M502 166v14h1v-14zM507 159h3v6h-3z M508 160v4h1v-4zM512 148h3v13h-3z M513 149v11h1v-11zM534 165h3v8h-3z M535 166v6h1v-6zM540 164h3v1h-3zM556 183h3v13h-3z M557 184v11h1v-11zM562 177h3v8h-3z M563 178v6h1v-6zM567 172h3v5h-3z M568 173v3h1v-3zM573 163h3v10h-3z M574 164v8h1v-8zM578 157h3v7h-3z M579 158v5h1v-5zM584 149h3v9h-3z M585 150v7h1v-7zM589 147h3v2h-3zM595 138h3v10h-3z M596 139v8h1v-8zM600 135h3v6h-3z M601 136v4h1v-4zM606 136h3v1h-3zM611 130h3v7h-3z M612 131v5h1v-5zM622 124h3v5h-3z M623 125v3h1v-3zM633 124h3v5h-3z M634 125v3h1v-3zM644 131h3v10h-3z M645 132v8h1v-8zM666 150h3v10h-3z M667 151v8h1v-8zM688 169h3v12h-3z M689 170v10h1v-10zM699 159h3v10h-3z M700 160v8h1v-8zM705 157h3v3h-3z M706 158v1h1v-1zM710 152h3v6h-3z M711 153v4h1v-4zM716 149h3v2h-3zM721 147h3v4h-3z M722 148v2h1v-2zM743 156h3v8h-3z M744 157v6h1v-6zM749 147h3v9h-3z M750 148v7h1v-7zM754 147h3v2h-3zM765 130h3v20h-3z M766 131v18h1v-18zM771 128h3v3h-3z M772 129v1h1v-1zM787 137h3v4h-3z M788 138v2h1v-2zM798 143h3v3h-3z M799 144v1h1v-1zM809 140h3v4h-3z M810 141v2h1v-2zM815 133h3v7h-3z M816 134v5h1v-5zM826 133h3v2h-3zM842 148h3v4h-3z M843 149v2h1v-2zM848 149h3v1h-3zM875 174h3v12h-3z M876 175v10h1v-10zM903 167h3v23h-3z M904 168v21h1v-21zM908 163h3v5h-3z M909 164v3h1v-3zM914 157h3v6h-3z M915 158v4h1v-4zM919 148h3v10h-3z M920 149v8h1v-8zM930 140h3v12h-3z M931 141v10h1v-10zM936 122h3v18h-3z M937 123v16h1v-16zM941 112h3v9h-3z M942 113v7h1v-7zM953 128h3v3h-3z M954 129v1h1v-1zM958 118h3v12h-3z M959 119v10h1v-10zM964 114h3v6h-3z M965 115v4h1v-4zM969 109h3v4h-3z M970 110v2h1v-2zM975 99h3v11h-3z M976 100v9h1v-9zM980 92h3v7h-3z M981 93v5h1v-5zM997 105h3v10h-3z M998 106v8h1v-8z" fill="#000" fill-rule="evenodd" shape-rendering="crispEdges"/>
<path d="M23 270h1v5h-1zM29 264h1v5h-1zM40 255h1v7h-1zM62 254h1v3h-1zM67 252h1v1h-1zM73 244h1v10h-1zM78 234h1v9h-1zM100 230h1v2h-1zM128 238h1v4h-1zM133 221h1v16h-1zM144 234h1v6h-1zM155 228h1v3h-1zM161 206h1v14h-1zM166 203h1v2h-1zM177 205h1v5h-1zM188 195h1v11h-1zM194 189h1v6h-1zM199 180h1v5h-1zM205 161h1v19h-1zM210 155h1v1h-1zM216 144h1v9h-1zM232 170h1v4h-1zM238 149h1v19h-1zM243 145h1v1h-1zM254 141h1v10h-1zM260 121h1v19h-1zM265 109h1v12h-1zM282 124h1v7h-1zM293 107h1v26h-1zM298 100h1v6h-1zM304 92h1v7h-1zM315 90h1v10h-1zM320 56h1v32h-1zM331 59h1v5h-1zM337 53h1v4h-1zM381 142h1v3h-1zM403 154h1v1h-1zM425 163h1v9h-1zM430 155h1v6h-1zM436 153h1v2h-1zM441 138h1v13h-1zM486 176h1v2h-1zM502 166h1v14h-1zM508 160h1v4h-1zM513 149h1v11h-1zM535 166h1v6h-1zM557 184h1v11h-1zM563 178h1v6h-1zM568 173h1v3h-1zM574 164h1v8h-1zM579 158h1v5h-1zM585 150h1v7h-1zM596 139h1v8h-1zM601 136h1v4h-1zM612 131h1v5h-1zM623 125h1v3h-1zM634 125h1v3h-1zM645 132h1v8h-1zM667 151h1v8h-1zM689 170h1v10h-1zM700 160h1v8h-1zM706 158h1v1h-1zM711 153h1v4h-1zM722 148h1v2h-1zM744 157h1v6h-1zM750 148h1v7h-1zM766 131h1v18h-1zM772 129h1v1h-1zM788 138h1v2h-1zM799 144h1v1h-1zM810 141h1v2h-1zM816 134h1v5h-1zM843 149h1v2h-1zM876 175h1v10h-1zM904 168h1v21h-1zM909 164h1v3h-1zM915 158h1v4h-1zM920 149h1v8h-1zM931 141h1v10h-1zM937 123h1v16h-1zM942 113h1v7h-1zM954 129h1v1h-1zM959 119h1v10h-1zM965 115h1v4h-1zM970 110h1v2h-1zM976 100h1v9h-1zM981 93h1v5h-1zM998 106h1v8h-1z" fill="#fff" shape-rendering="crispEdges"/>
<path d="M11 261h3v8h-3zM17 268h3v8h-3zM50 253h3v3h-3zM55 255h3v5h-3zM88 232h3v1h-3zM94 232h3v1h-3zM105 227h3v8h-3zM110 233h3v6h-3zM121 236h3v7h-3zM138 221h3v19h-3zM171 202h3v9h-3zM182 204h3v3h-3zM220 143h3v16h-3zM226 160h3v15h-3zM248 144h3v7h-3zM270 109h3v14h-3zM275 124h3v8h-3zM286 123h3v11h-3zM308 88h3v10h-3zM325 55h3v10h-3zM341 53h3v13h-3zM347 69h3v12h-3zM358 76h3v52h-3zM369 119h3v11h-3zM374 127h3v18h-3zM385 140h3v3h-3zM391 143h3v7h-3zM396 151h3v7h-3zM407 153h3v19h-3zM413 171h3v3h-3zM446 137h3v8h-3zM457 148h3v9h-3zM462 156h3v7h-3zM468 162h3v7h-3zM473 168h3v8h-3zM479 173h3v6h-3zM490 176h3v2h-3zM496 177h3v5h-3zM518 148h3v3h-3zM523 150h3v5h-3zM529 154h3v15h-3zM545 164h3v8h-3zM551 171h3v26h-3zM617 130h3v2h-3zM628 124h3v5h-3zM639 124h3v17h-3zM650 132h3v21h-3zM655 152h3v6h-3zM661 157h3v2h-3zM672 150h3v16h-3zM677 165h3v13h-3zM683 178h3v4h-3zM694 169h3v1h-3zM727 148h3v4h-3zM732 151h3v1h-3zM738 152h3v12h-3zM760 147h3v3h-3zM776 130h3v1h-3zM782 130h3v11h-3zM793 137h3v10h-3zM804 143h3v1h-3zM820 133h3v2h-3zM831 135h3v10h-3zM837 142h3v10h-3zM853 149h3v12h-3zM859 160h3v1h-3zM864 161h3v7h-3zM870 168h3v18h-3zM881 174h3v6h-3zM886 179h3v2h-3zM892 181h3v7h-3zM897 187h3v4h-3zM925 146h3v2h-3zM947 118h3v13h-3zM986 92h3v4h-3zM991 94h3v22h-3zM1002 94h3v15h-3zM1008 104h3v14h-3z" fill="#666" shape-rendering="crispEdges"/>
<g filter="url(#sh)"><path d="M1003.3 300.2L1012.6 314.2" stroke="#000" stroke-width="3" stroke-linecap="round"/><path d="M1017.6 322 L1007.6 317.3 L1016.6 311.3Z" fill="#000"/></g>
<ellipse cx="1003.05" cy="465.8" rx="8.05" ry="12.9" fill="none" stroke="#bf0b10" stroke-width="2" filter="url(#sh)"/>
<g stroke="#9a9aae" stroke-width="1" fill="none" shape-rendering="crispEdges">
<path d="M10.5 26.5H1285.5M10.5 26.5V817.5M1285.5 26.5V566.5M0 289.5H1356M0 566.5H1356M10.5 817.5H1285.5"/></g>
<g stroke="#000" stroke-width="1" fill="none" shape-rendering="crispEdges"><path d="M10.5 566.5V817.5H31M10.5 566.5H31M1265 566.5H1285.5V817.5H1265"/></g>
<path d="M1286 76.5h5M1286 107.5h5M1286 138.5h5M1286 170.5h5M1286 201.5h5M1286 233.5h5M1286 264.5h5M1286 346.5h5M1286 369.5h5M1286 392.5h5M1286 414.5h5M1286 437.5h5M1286 482.5h5M1286 504.5h5M1286 526.5h5M1286 549.5h5M1286 616.5h5M1286 646.5h5M1286 675.5h5M1286 705.5h5M1286 735.5h5M1286 764.5h5M1286 794.5h5" stroke="#000" stroke-width="1" shape-rendering="crispEdges"/>
<g font-size="10.67" fill="#000">
<text x="1291" y="54" >Price</text>
<text x="1290.5" y="70" >USD</text>
<text x="1294" y="86" >111</text>
<text x="1294" y="110.5" >108</text>
<text x="1294" y="142.5" >105</text>
<text x="1294" y="174" >102</text>
<text x="1294" y="205.5" >99</text>
<text x="1294" y="237" >96</text>
<text x="1294" y="268" >93</text>
<text x="1290.5" y="335" >USD</text>
<text x="1294" y="350.5" >25</text>
<text x="1294" y="373.5" >20</text>
<text x="1294" y="396" >15</text>
<text x="1294" y="418.5" >10</text>
<text x="1294" y="441" >5</text>
<text x="1294" y="486" >-5</text>
<text x="1294" y="508" >-10</text>
<text x="1294" y="530" >-15</text>
<text x="1294" y="547" >-20</text>
<text x="1293" y="464" font-size="14.67" font-family="'Liberation Serif', serif" stroke="#000" stroke-width="0.3">0</text>
<text x="1291" y="594.5" >Value</text>
<text x="1294" y="620" >25,000</text>
<text x="1294" y="650" >20,000</text>
<text x="1294" y="679.5" >15,000</text>
<text x="1294" y="709" >10,000</text>
<text x="1294" y="739" >5,000</text>
<text x="1294" y="767" >0</text>
<text x="1294" y="798" >-5,000</text>
</g>
<rect x="1286" y="111" width="69" height="14" fill="#000"/>
<text x="1287" y="121.4" font-size="10.67" font-weight="bold" fill="#fff">107.000</text>
<rect x="1286" y="312" width="69" height="14" fill="#000"/>
<text x="1287" y="322.4" font-size="10.67" font-weight="bold" fill="#fff">31.185</text>
<rect x="1286" y="466" width="69" height="14" fill="#000"/><text x="1287" y="476.9" font-size="10.67" fill="#fff">-3.143</text>
<rect x="1286" y="651.5" width="69" height="14" fill="#0a7cc2"/>
<text x="1287" y="661.9" font-size="10.67" font-weight="bold" fill="#fff">17,807.000</text>
<rect x="1286" y="759.5" width="69" height="14" fill="#0a7cc2"/><text x="1287" y="770.6" font-size="10.67" fill="#fff">-489.000</text>
<rect x="1292.5" y="275.5" width="24" height="13" fill="#fff" stroke="#000" stroke-width="1"/><text x="1294" y="286.0" font-size="10.67">Auto</text>
<rect x="1292.5" y="552.5" width="24" height="13" fill="#fff" stroke="#000" stroke-width="1"/><text x="1294" y="563.0" font-size="10.67">Auto</text>
<rect x="1292.5" y="803.5" width="24" height="13" fill="#fff" stroke="#000" stroke-width="1"/><text x="1294" y="814.0" font-size="10.67">Auto</text>
<g transform="translate(1325,28)"><rect x="0.5" y="0.5" width="12" height="12" rx="2" fill="#e9e9ec" stroke="#8496b4"/><rect x="1.5" y="1.5" width="10" height="10" fill="none" stroke="#404a63"/><rect x="4" y="5" width="5" height="3" fill="#9db0cc" stroke="#3b4766" stroke-width="0.9"/></g>
<g transform="translate(1340,28)"><rect x="0.5" y="0.5" width="12" height="12" rx="2" fill="#eda7a7" stroke="#5b1c2c"/><path d="M3 3L10 10M10 3L3 10" stroke="#4a3038" stroke-width="3.4"/><path d="M3 3L10 10M10 3L3 10" stroke="#fff" stroke-width="1.9"/></g>
<g transform="translate(1325,293)"><rect x="0.5" y="0.5" width="12" height="12" rx="2" fill="#e9e9ec" stroke="#8496b4"/><rect x="1.5" y="1.5" width="10" height="10" fill="none" stroke="#404a63"/><rect x="4" y="5" width="5" height="3" fill="#9db0cc" stroke="#3b4766" stroke-width="0.9"/></g>
<g transform="translate(1340,293)"><rect x="0.5" y="0.5" width="12" height="12" rx="2" fill="#eda7a7" stroke="#5b1c2c"/><path d="M3 3L10 10M10 3L3 10" stroke="#4a3038" stroke-width="3.4"/><path d="M3 3L10 10M10 3L3 10" stroke="#fff" stroke-width="1.9"/></g>
<g transform="translate(1325,569)"><rect x="0.5" y="0.5" width="12" height="12" rx="2" fill="#e9e9ec" stroke="#8496b4"/><rect x="1.5" y="1.5" width="10" height="10" fill="none" stroke="#404a63"/><rect x="4" y="5" width="5" height="3" fill="#9db0cc" stroke="#3b4766" stroke-width="0.9"/></g>
<g transform="translate(1340,569)"><rect x="0.5" y="0.5" width="12" height="12" rx="2" fill="#eda7a7" stroke="#5b1c2c"/><path d="M3 3L10 10M10 3L3 10" stroke="#4a3038" stroke-width="3.4"/><path d="M3 3L10 10M10 3L3 10" stroke="#fff" stroke-width="1.9"/></g>
<text x="677" y="18.2" font-size="16" font-weight="bold" text-anchor="middle" textLength="316" lengthAdjust="spacingAndGlyphs">Weekly : USD net exposure (USD billions)</text>
<path d="M18.5 819v3M40.5 819v3M67.5 819v3M89.5 819v3M117.5 819v3M139.5 819v3M161.5 819v3M183.5 819v3M210.5 819v3M232.5 819v3M254.5 819v3M282.5 819v3M304.5 819v3M331.5 819v3M353.5 819v3M375.5 819v3M403.5 819v3M425.5 819v3M447.5 819v3M474.5 819v3M497.5 819v3M519.5 819v3M546.5 819v3M568.5 819v3M590.5 819v3M618.5 819v3M640.5 819v3M662.5 819v3M689.5 819v3M711.5 819v3M733.5 819v3M761.5 819v3M783.5 819v3M810.5 819v3M832.5 819v3M854.5 819v3M882.5 819v3M904.5 819v3M926.5 819v3M954.5 819v3M976.5 819v3M1003.5 819v3M1025.5 819v3M1047.5 819v3M1069.5 819v3M1097.5 819v3M1119.5 819v3M1141.5 819v3M1168.5 819v3M1190.5 819v3M1218.5 819v3M1240.5 819v3M1262.5 819v3" stroke="#000" stroke-width="1" shape-rendering="crispEdges"/>
<g font-size="10.2" text-anchor="middle" fill="#000">
<text x="18.5" y="831.5">S</text>
<text x="40.5" y="831.5">O</text>
<text x="67.5" y="831.5">N</text>
<text x="89.5" y="831.5">D</text>
<text x="117.5" y="831.5">J</text>
<text x="139.5" y="831.5">F</text>
<text x="161.5" y="831.5">M</text>
<text x="183.5" y="831.5">A</text>
<text x="210.5" y="831.5">M</text>
<text x="232.5" y="831.5">J</text>
<text x="254.5" y="831.5">J</text>
<text x="282.5" y="831.5">A</text>
<text x="304.5" y="831.5">S</text>
<text x="331.5" y="831.5">O</text>
<text x="353.5" y="831.5">N</text>
<text x="375.5" y="831.5">D</text>
<text x="403.5" y="831.5">J</text>
<text x="425.5" y="831.5">F</text>
<text x="447.5" y="831.5">M</text>
<text x="474.5" y="831.5">A</text>
<text x="497.5" y="831.5">M</text>
<text x="519.5" y="831.5">J</text>
<text x="546.5" y="831.5">J</text>
<text x="568.5" y="831.5">A</text>
<text x="590.5" y="831.5">S</text>
<text x="618.5" y="831.5">O</text>
<text x="640.5" y="831.5">N</text>
<text x="662.5" y="831.5">D</text>
<text x="689.5" y="831.5">J</text>
<text x="711.5" y="831.5">F</text>
<text x="733.5" y="831.5">M</text>
<text x="761.5" y="831.5">A</text>
<text x="783.5" y="831.5">M</text>
<text x="810.5" y="831.5">J</text>
<text x="832.5" y="831.5">J</text>
<text x="854.5" y="831.5">A</text>
<text x="882.5" y="831.5">S</text>
<text x="904.5" y="831.5">O</text>
<text x="926.5" y="831.5">N</text>
<text x="954.5" y="831.5">D</text>
<text x="976.5" y="831.5">J</text>
<text x="1003.5" y="831.5">F</text>
<text x="1025.5" y="831.5">M</text>
<text x="1047.5" y="831.5">A</text>
<text x="1069.5" y="831.5">M</text>
<text x="1097.5" y="831.5">J</text>
<text x="1119.5" y="831.5">J</text>
<text x="1141.5" y="831.5">A</text>
<text x="1168.5" y="831.5">S</text>
<text x="1190.5" y="831.5">O</text>
<text x="1218.5" y="831.5">N</text>
<text x="1240.5" y="831.5">D</text>
<text x="1262.5" y="831.5">J</text>
</g>
<path d="M40.5 836.5v15M117.5 836.5v15M183.5 836.5v15M254.5 836.5v15M331.5 836.5v15M403.5 836.5v15M474.5 836.5v15M546.5 836.5v15M618.5 836.5v15M689.5 836.5v15M761.5 836.5v15M832.5 836.5v15M904.5 836.5v15M976.5 836.5v15M1047.5 836.5v15M1119.5 836.5v15M1190.5 836.5v15M1262.5 836.5v15" stroke="#000" stroke-width="1.4"/>
<g font-size="13.33" font-weight="bold" text-anchor="middle" fill="#000">
<text x="77.6" y="847.5" textLength="47.6" lengthAdjust="spacingAndGlyphs">Q4 2021</text>
<text x="149.1" y="847.5" textLength="47.6" lengthAdjust="spacingAndGlyphs">Q1 2022</text>
<text x="218.0" y="847.5" textLength="47.6" lengthAdjust="spacingAndGlyphs">Q2 2022</text>
<text x="292.3" y="847.5" textLength="47.6" lengthAdjust="spacingAndGlyphs">Q3 2022</text>
<text x="366.6" y="847.5" textLength="47.6" lengthAdjust="spacingAndGlyphs">Q4 2022</text>
<text x="438.2" y="847.5" textLength="47.6" lengthAdjust="spacingAndGlyphs">Q1 2023</text>
<text x="509.8" y="847.5" textLength="47.6" lengthAdjust="spacingAndGlyphs">Q2 2023</text>
<text x="581.4" y="847.5" textLength="47.6" lengthAdjust="spacingAndGlyphs">Q3 2023</text>
<text x="652.9" y="847.5" textLength="47.6" lengthAdjust="spacingAndGlyphs">Q4 2023</text>
<text x="724.5" y="847.5" textLength="47.6" lengthAdjust="spacingAndGlyphs">Q1 2024</text>
<text x="796.1" y="847.5" textLength="47.6" lengthAdjust="spacingAndGlyphs">Q2 2024</text>
<text x="867.7" y="847.5" textLength="47.6" lengthAdjust="spacingAndGlyphs">Q3 2024</text>
<text x="939.2" y="847.5" textLength="47.6" lengthAdjust="spacingAndGlyphs">Q4 2024</text>
<text x="1010.8" y="847.5" textLength="47.6" lengthAdjust="spacingAndGlyphs">Q1 2025</text>
<text x="1082.4" y="847.5" textLength="47.6" lengthAdjust="spacingAndGlyphs">Q2 2025</text>
<text x="1154.0" y="847.5" textLength="47.6" lengthAdjust="spacingAndGlyphs">Q3 2025</text>
<text x="1225.5" y="847.5" textLength="47.6" lengthAdjust="spacingAndGlyphs">Q4 2025</text>
</g>
<g font-weight="bold" font-size="10.5" fill="#000" font-family="'DejaVu Sans', 'Liberation Sans', sans-serif">
<text x="1030" y="121.5" textLength="85.5" lengthAdjust="spacingAndGlyphs">US dollar index</text>
<text x="1029" y="324.6" textLength="117" lengthAdjust="spacingAndGlyphs">USD net (all futures)</text>
<text x="1031.3" y="658.5" fill="#0a7cc2" textLength="89" lengthAdjust="spacingAndGlyphs">Asset managers</text>
<text x="1031.3" y="671.8" fill="#0a7cc2" textLength="70" lengthAdjust="spacingAndGlyphs">(USD Index)</text>
</g>
<text x="1096.8" y="162.9" text-anchor="middle" font-style="italic" font-size="13" fill="#2b2b2b" textLength="223" lengthAdjust="spacingAndGlyphs">The US dollar rally has at least paused</text>
<text x="1096.4" y="178.6" text-anchor="middle" font-style="italic" font-size="13" fill="#2b2b2b" textLength="201.7" lengthAdjust="spacingAndGlyphs">and is now hinting at a retracement</text>
<text x="1100.6" y="362.4" text-anchor="middle" font-style="italic" font-size="13" fill="#2b2b2b" textLength="118.7" lengthAdjust="spacingAndGlyphs">Net-long exposure to</text>
<text x="1100.2" y="378.7" text-anchor="middle" font-style="italic" font-size="13" fill="#2b2b2b" textLength="98.3" lengthAdjust="spacingAndGlyphs">USD futures may</text>
<text x="1100.2" y="394.5" text-anchor="middle" font-style="italic" font-size="13" fill="#2b2b2b" textLength="73.7" lengthAdjust="spacingAndGlyphs">have peaked</text>
<text x="1134.9" y="486.0" text-anchor="middle" font-style="italic" font-size="13" fill="#bf2430" textLength="235.6" lengthAdjust="spacingAndGlyphs">The -$3bn reduction of net-long exposure</text>
<text x="1134.6" y="502.0" text-anchor="middle" font-style="italic" font-size="13" fill="#bf2430" textLength="240.6" lengthAdjust="spacingAndGlyphs">last week was its most aggressive weekly</text>
<text x="1134.9" y="518.1" text-anchor="middle" font-style="italic" font-size="13" fill="#bf2430" textLength="145" lengthAdjust="spacingAndGlyphs">change since September</text>
<text x="914.6" y="587.7" text-anchor="middle" font-style="italic" font-size="13" fill="#2a8fd0" textLength="283.2" lengthAdjust="spacingAndGlyphs">Asset managers are also loosening their net-long</text>
<text x="915.5" y="603.9" text-anchor="middle" font-style="italic" font-size="13" fill="#2a8fd0" textLength="315.6" lengthAdjust="spacingAndGlyphs">exposure to the US dollar index, and they have tracked</text>
<text x="915.2" y="619.6" text-anchor="middle" font-style="italic" font-size="13" fill="#2a8fd0" textLength="256" lengthAdjust="spacingAndGlyphs">the dollar's direction very well in recent years</text>
</svg>
</body></html>
